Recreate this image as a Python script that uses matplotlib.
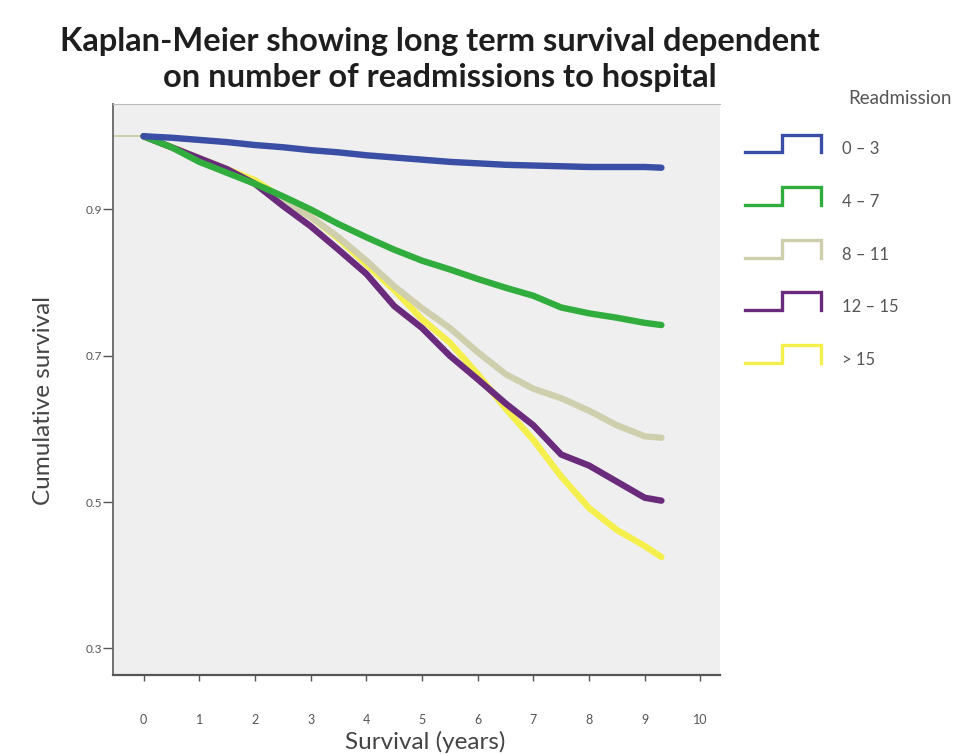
import matplotlib
matplotlib.use("Agg")
from matplotlib import pyplot as plt
from matplotlib.legend_handler import HandlerBase
from matplotlib.lines import Line2D

plt.rcParams['font.family'] = ['Lato', 'DejaVu Sans']

# survival (years)
years = [0, 0.5, 1, 1.5, 2, 2.5, 3, 3.5, 4, 4.5, 5, 5.5, 6, 6.5, 7, 7.5, 8, 8.5, 9, 9.3]

# cumulative survival per readmission group
surv_0_3 = [1.0, 0.998, 0.995, 0.992, 0.988, 0.985, 0.981, 0.978, 0.974, 0.971, 0.968,
            0.965, 0.963, 0.961, 0.960, 0.959, 0.958, 0.958, 0.958, 0.957]
surv_4_7 = [1.0, 0.985, 0.965, 0.950, 0.935, 0.918, 0.900, 0.880, 0.862, 0.845, 0.830,
            0.818, 0.805, 0.793, 0.782, 0.766, 0.758, 0.752, 0.745, 0.742]
surv_8_11 = [1.0, 0.985, 0.970, 0.953, 0.935, 0.912, 0.890, 0.862, 0.830, 0.795, 0.765,
             0.738, 0.705, 0.675, 0.655, 0.642, 0.625, 0.605, 0.590, 0.588]
surv_12_15 = [1.0, 0.985, 0.970, 0.955, 0.935, 0.905, 0.877, 0.845, 0.812, 0.768, 0.738,
              0.700, 0.668, 0.635, 0.605, 0.565, 0.550, 0.528, 0.506, 0.502]
surv_gt15 = [1.0, 0.985, 0.970, 0.955, 0.940, 0.915, 0.890, 0.860, 0.825, 0.790, 0.750,
             0.718, 0.675, 0.628, 0.585, 0.535, 0.492, 0.462, 0.440, 0.425]

groups = ['0 – 3', '4 – 7', '8 – 11', '12 – 15', '> 15']
colors = ['#3a4ea6', '#30ad3c', '#cfcfae', '#6b2b7c', '#f4ef4c']
series = [surv_0_3, surv_4_7, surv_8_11, surv_12_15, surv_gt15]
draw_order = [4, 2, 3, 1, 0]

x_ticks = [0, 1, 2, 3, 4, 5, 6, 7, 8, 9, 10]
y_ticks = [0.3, 0.5, 0.7, 0.9]


class StepHandler(HandlerBase):
    # legend icon shaped like a survival step, sitting a bit above the label
    def create_artists(self, legend, orig_handle, xdescent, ydescent,
                       width, height, fontsize, trans):
        x0 = -xdescent
        y0 = -ydescent
        lo = y0 + 0.3 * height
        hi = y0 + 1.3 * height
        xs = [x0, x0 + width * 0.49, x0 + width * 0.49, x0 + width, x0 + width]
        ys = [lo, lo, hi, hi, lo]
        ln = Line2D(xs, ys, color=orig_handle.get_color(), lw=2.4,
                    solid_joinstyle='miter', transform=trans)
        return [ln]


fig = plt.figure(figsize=(9.68, 7.54), dpi=100)
ax = fig.add_axes([0.1167, 0.105, 0.627, 0.757])
ax.set_facecolor('#efefef')

x_lo, x_hi = -0.55, 10.35
# thin lead-in before time zero
ax.plot([x_lo, years[0]], [surv_gt15[0], surv_gt15[0]], color='#c9cba0', lw=1.2)

lines = [None] * 5
for i in draw_order:
    ln, = ax.plot(years, series[i], color=colors[i], lw=4.6,
                  solid_capstyle='round', solid_joinstyle='round')
    lines[i] = ln

ax.set_xlim(x_lo, x_hi)
ax.set_ylim(0.264, 1.044)
ax.set_xticks(x_ticks)
ax.set_xticklabels([str(t) for t in x_ticks])
ax.set_yticks(y_ticks)
ax.set_yticklabels([str(t) for t in y_ticks])
ax.tick_params(axis='x', length=4, width=1, color='#555555', pad=24,
               labelsize=9, labelcolor='#555555')
ax.tick_params(axis='y', length=7, width=1, color='#555555', pad=1,
               labelsize=8.5, labelcolor='#555555')
ax.spines['right'].set_visible(False)
ax.spines['top'].set_color('#bbbbbb')
ax.spines['left'].set_color('#666666')
ax.spines['bottom'].set_color('#555555')
ax.spines['left'].set_linewidth(1.3)
ax.spines['bottom'].set_linewidth(1.6)

ax.set_xlabel('Survival (years)', fontsize=17.5, color='#444444', va='center')
ax.xaxis.set_label_coords(0.514, -0.118)
ax.set_ylabel('Cumulative survival', fontsize=17.5, color='#444444', va='center')
ax.yaxis.set_label_coords(-0.115, 0.48)

fig.text(0.4545, 1 - 51 / 754, 'Kaplan-Meier showing long term survival dependent',
         ha='center', va='baseline', fontsize=23.5, fontweight='bold', color='#1e1e1e')
fig.text(0.4545, 1 - 87 / 754, 'on number of readmissions to hospital',
         ha='center', va='baseline', fontsize=23.5, fontweight='bold', color='#1e1e1e')

fig.text(848 / 968, 1 - 98 / 754, 'Readmission', fontsize=13.5, color='#555555',
         ha='left', va='center')

fs = 12
leg = fig.legend(lines, groups, handler_map={Line2D: StepHandler()},
                 loc='upper left', bbox_to_anchor=(745 / 968, 1 - 140 / 754),
                 frameon=False, fontsize=fs, labelcolor='#555555',
                 handlelength=4.56, handleheight=1.26, handletextpad=1.26,
                 labelspacing=2.09, borderpad=0, borderaxespad=0)

fig.savefig('out.png', dpi=100)
